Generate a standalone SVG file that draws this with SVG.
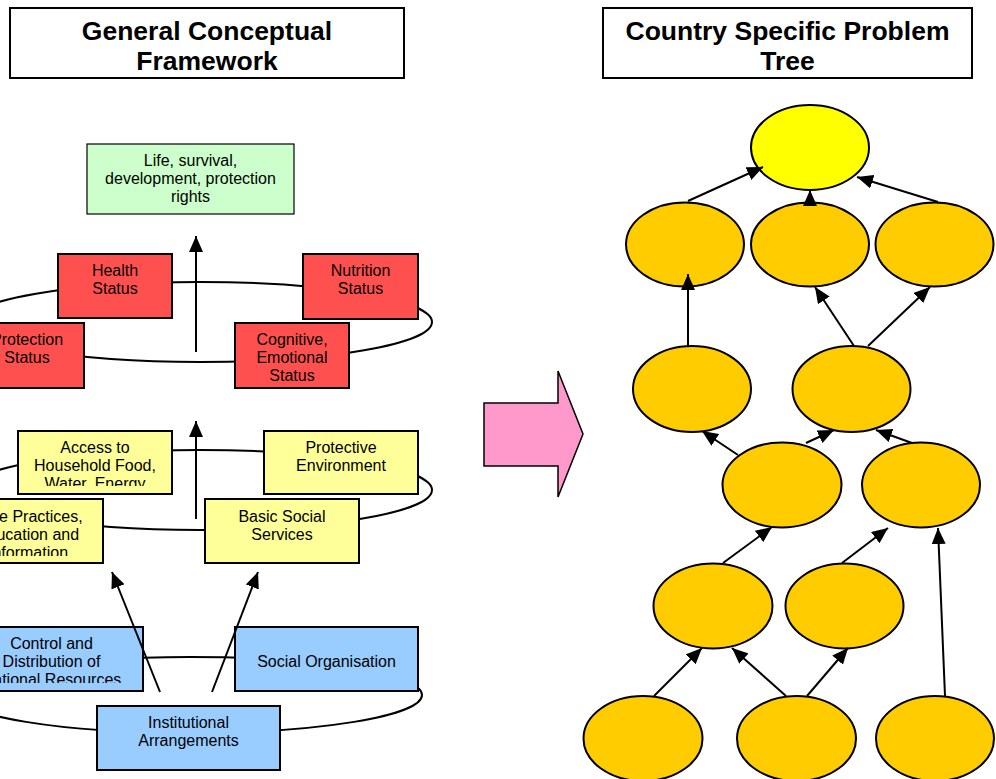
<svg xmlns="http://www.w3.org/2000/svg" width="996" height="779" viewBox="0 0 996 779">
  <style>
    .title { font-family: "Liberation Sans", Arial, sans-serif; font-size: 26.5px; font-weight: bold; fill: #000; text-anchor: middle; }
    .lbl { font-family: "Liberation Sans", Arial, sans-serif; font-size: 16px; fill: #000; text-anchor: middle; }
    .frame { fill: #fff; stroke: #000; stroke-width: 2; }
    .box { stroke: #000; stroke-width: 2; }
    .green { fill: #CCFFCC; stroke-width: 1.2; }
    .red { fill: #FF5050; }
    .yellow { fill: #FFFF99; }
    .blue { fill: #99CCFF; }
    .ring { fill: none; stroke: #000; stroke-width: 2; }
    .node { fill: #FFCC00; stroke: #000; stroke-width: 2; }
    .root { fill: #FFFF00; }
    .edge { fill: none; stroke: #000; stroke-width: 2; marker-end: url(#head); }
  </style>
  <defs>
    <marker id="head" viewBox="0 0 16 14" markerWidth="16" markerHeight="14" refX="16" refY="7" orient="auto" markerUnits="userSpaceOnUse">
      <path d="M0,0 L16,7 L0,14 z" fill="#000"/>
    </marker>
    <clipPath id="clipAccess"><rect x="18" y="431" width="154" height="55"/></clipPath>
    <clipPath id="clipCare"><rect x="-50" y="499" width="153" height="57"/></clipPath>
    <clipPath id="clipControl"><rect x="-40" y="627" width="183" height="56"/></clipPath>
  </defs>

  <rect width="996" height="779" fill="#fff"/>

  <!-- Headings -->
  <g id="heading-framework">
    <rect class="frame" x="10" y="8" width="394" height="70"/>
    <text class="title" x="207" y="40">General Conceptual</text>
    <text class="title" x="207" y="70">Framework</text>
  </g>
  <g id="heading-tree">
    <rect class="frame" x="603" y="8" width="369" height="70"/>
    <text class="title" x="787.5" y="40">Country Specific Problem</text>
    <text class="title" x="787.5" y="70">Tree</text>
  </g>

  <!-- Rings linking the boxes of each level -->
  <g id="rings">
    <ellipse class="ring" cx="200" cy="322" rx="232" ry="40"/>
    <ellipse class="ring" cx="200" cy="490" rx="232" ry="40"/>
    <ellipse class="ring" cx="190" cy="695" rx="232" ry="38"/>
  </g>

  <!-- Outcome -->
  <g id="rights">
    <rect class="box green" x="87" y="144" width="207" height="70"/>
    <text class="lbl" x="190.5" y="166">Life, survival,</text>
    <text class="lbl" x="190.5" y="184">development, protection</text>
    <text class="lbl" x="190.5" y="202">rights</text>
  </g>

  <!-- Immediate level -->
  <g id="health-status">
    <rect class="box red" x="58" y="254" width="114" height="64"/>
    <text class="lbl" x="115" y="276">Health</text>
    <text class="lbl" x="115" y="294">Status</text>
  </g>
  <g id="nutrition-status">
    <rect class="box red" x="303" y="254" width="115" height="65"/>
    <text class="lbl" x="360.5" y="276">Nutrition</text>
    <text class="lbl" x="360.5" y="294">Status</text>
  </g>
  <g id="protection-status">
    <rect class="box red" x="-30" y="323" width="114" height="65"/>
    <text class="lbl" x="27" y="345">Protection</text>
    <text class="lbl" x="27" y="363">Status</text>
  </g>
  <g id="cognitive-status">
    <rect class="box red" x="235" y="323" width="114" height="65"/>
    <text class="lbl" x="292" y="345">Cognitive,</text>
    <text class="lbl" x="292" y="363">Emotional</text>
    <text class="lbl" x="292" y="381">Status</text>
  </g>

  <!-- Underlying level -->
  <g id="household-access">
    <rect class="box yellow" x="18" y="431" width="154" height="63"/>
    <g clip-path="url(#clipAccess)">
      <text class="lbl" x="95" y="453">Access to</text>
      <text class="lbl" x="95" y="471">Household Food,</text>
      <text class="lbl" x="95" y="489">Water, Energy</text>
    </g>
  </g>
  <g id="protective-environment">
    <rect class="box yellow" x="264" y="431" width="154" height="63"/>
    <text class="lbl" x="341" y="453">Protective</text>
    <text class="lbl" x="341" y="471">Environment</text>
  </g>
  <g id="care-practices">
    <rect class="box yellow" x="-50" y="499" width="153" height="64"/>
    <g clip-path="url(#clipCare)">
      <text class="lbl" x="28" y="522">Care Practices,</text>
      <text class="lbl" x="28" y="540">Education and</text>
      <text class="lbl" x="28" y="558">Information</text>
    </g>
  </g>
  <g id="basic-services">
    <rect class="box yellow" x="205" y="499" width="154" height="64"/>
    <text class="lbl" x="282" y="522">Basic Social</text>
    <text class="lbl" x="282" y="540">Services</text>
  </g>

  <!-- Basic level -->
  <g id="resources">
    <rect class="box blue" x="-40" y="627" width="183" height="64"/>
    <g clip-path="url(#clipControl)">
      <text class="lbl" x="51.5" y="649">Control and</text>
      <text class="lbl" x="51.5" y="667">Distribution of</text>
      <text class="lbl" x="51.5" y="685">National Resources</text>
    </g>
  </g>
  <g id="social-organisation">
    <rect class="box blue" x="235" y="627" width="183" height="64"/>
    <text class="lbl" x="326.5" y="667">Social Organisation</text>
  </g>
  <g id="institutions">
    <rect class="box blue" x="97" y="706" width="183" height="64"/>
    <text class="lbl" x="188.5" y="728">Institutional</text>
    <text class="lbl" x="188.5" y="746">Arrangements</text>
  </g>

  <!-- Transition arrow -->
  <g id="transfer-arrow">
    <polygon points="484,403 558,403 558,371 583,434 558,497 558,466 484,466" fill="#FF99CC" stroke="#000" stroke-width="1.5"/>
  </g>

  <!-- Problem tree nodes -->
  <g id="tree-root"><ellipse class="node root" cx="810" cy="147.5" rx="59" ry="42.5"/></g>
  <g id="tree-r2a"><ellipse class="node" cx="685" cy="244.5" rx="59" ry="42"/></g>
  <g id="tree-r2b"><ellipse class="node" cx="810" cy="244.5" rx="59" ry="42"/></g>
  <g id="tree-r2c"><ellipse class="node" cx="934.5" cy="244.5" rx="59" ry="42"/></g>
  <g id="tree-r3a"><ellipse class="node" cx="692" cy="389" rx="59" ry="43"/></g>
  <g id="tree-r3b"><ellipse class="node" cx="851.5" cy="389" rx="59" ry="43"/></g>
  <g id="tree-r4a"><ellipse class="node" cx="782" cy="485" rx="59.5" ry="42.5"/></g>
  <g id="tree-r4b"><ellipse class="node" cx="921" cy="485" rx="59" ry="42.5"/></g>
  <g id="tree-r5a"><ellipse class="node" cx="713" cy="606" rx="59.5" ry="42.5"/></g>
  <g id="tree-r5b"><ellipse class="node" cx="844.5" cy="606" rx="59" ry="42.5"/></g>
  <g id="tree-r6a"><ellipse class="node" cx="643" cy="738.5" rx="59.5" ry="42.5"/></g>
  <g id="tree-r6b"><ellipse class="node" cx="796.5" cy="738.5" rx="59.5" ry="42.5"/></g>
  <g id="tree-r6c"><ellipse class="node" cx="935" cy="738.5" rx="59" ry="42.5"/></g>

  <!-- Connectors -->
  <g id="connectors">
    <line class="edge" x1="196" y1="352" x2="196" y2="236"/>
    <line class="edge" x1="196" y1="519" x2="196" y2="421"/>
    <line class="edge" x1="160" y1="692" x2="112" y2="572"/>
    <line class="edge" x1="212" y1="692" x2="258" y2="572"/>

    <line class="edge" x1="688" y1="201" x2="763" y2="167"/>
    <line class="edge" x1="810" y1="206" x2="810" y2="190"/>
    <line class="edge" x1="938" y1="202" x2="857" y2="177"/>
    <line class="edge" x1="688" y1="346" x2="688" y2="274"/>
    <line class="edge" x1="854" y1="346" x2="815" y2="287"/>
    <line class="edge" x1="868" y1="346" x2="930" y2="287"/>
    <line class="edge" x1="738" y1="455" x2="702" y2="431"/>
    <line class="edge" x1="806" y1="443" x2="834" y2="430"/>
    <line class="edge" x1="912" y1="443" x2="876" y2="430"/>
    <line class="edge" x1="723" y1="563" x2="772" y2="527"/>
    <line class="edge" x1="842" y1="563" x2="888" y2="528"/>
    <line class="edge" x1="654" y1="696" x2="702" y2="648"/>
    <line class="edge" x1="786" y1="696" x2="732" y2="648"/>
    <line class="edge" x1="807" y1="696" x2="848" y2="648"/>
    <line class="edge" x1="945" y1="696" x2="938" y2="528"/>
  </g>
</svg>
